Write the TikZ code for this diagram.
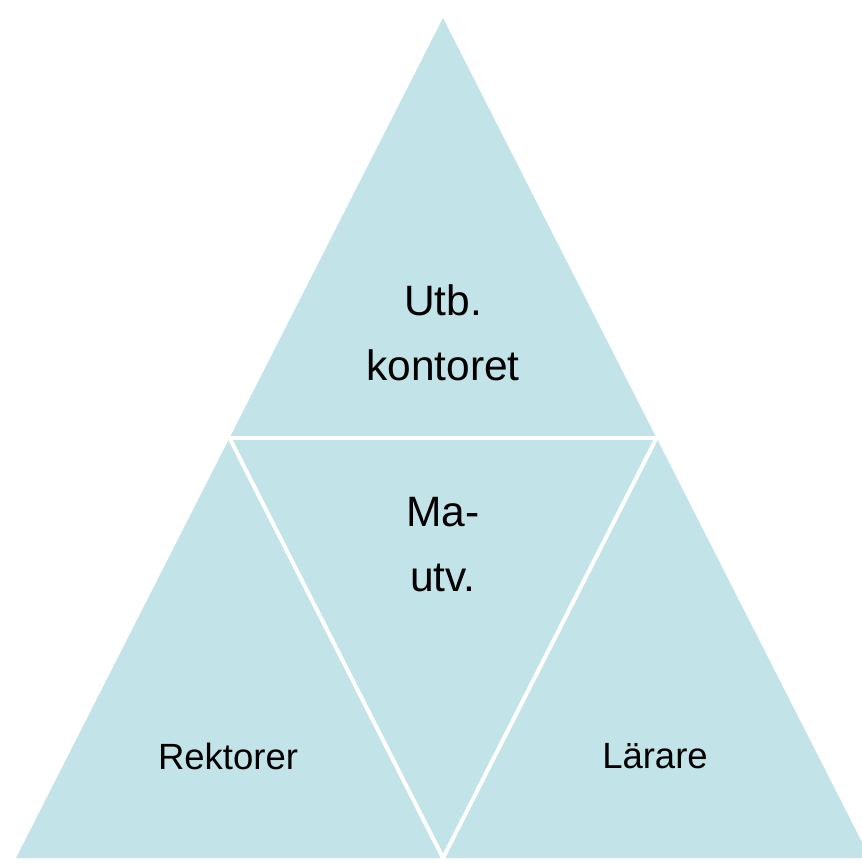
\documentclass[tikz,border=0pt]{standalone}
\usepackage{fontspec}
\setmainfont{Liberation Sans}
\usetikzlibrary{calc}
\definecolor{paleblue}{RGB}{194,227,231}
\begin{document}
\begin{tikzpicture}
        [x=1pt,y=-1pt,
        cornerlabel/.style={align=center,font=\fontsize{36.5}{40}\selectfont},
        biglabel/.style={align=center,font=\fontsize{42.5}{65}\selectfont},
        gap/.style={draw=white,line width=4pt}]
        \useasboundingbox (0,0) rectangle (862,863);
        \coordinate (top) at (443,18);
        \coordinate (left) at (16,858);
        \coordinate (right) at (870,858);
        \coordinate (midleft) at ($(top)!0.5!(left)$);
        \coordinate (midright) at ($(top)!0.5!(right)$);
        \coordinate (midbase) at ($(left)!0.5!(right)$);
        \fill[paleblue] (top) -- (left) -- (right) -- cycle;
        \draw[gap] (midleft) -- (midright);
        \draw[gap] (midleft) -- (midbase) -- (midright);
        \node[biglabel] (utb) at (443,333) {Utb.\\kontoret};
        \node[biglabel] (matv) at (443,545) {Ma-\\utv.};
        \node[cornerlabel] (rektorer) at (228,756) {Rektorer};
        \node[cornerlabel] (larare) at (655,756) {Lärare};
\end{tikzpicture}
\end{document}
